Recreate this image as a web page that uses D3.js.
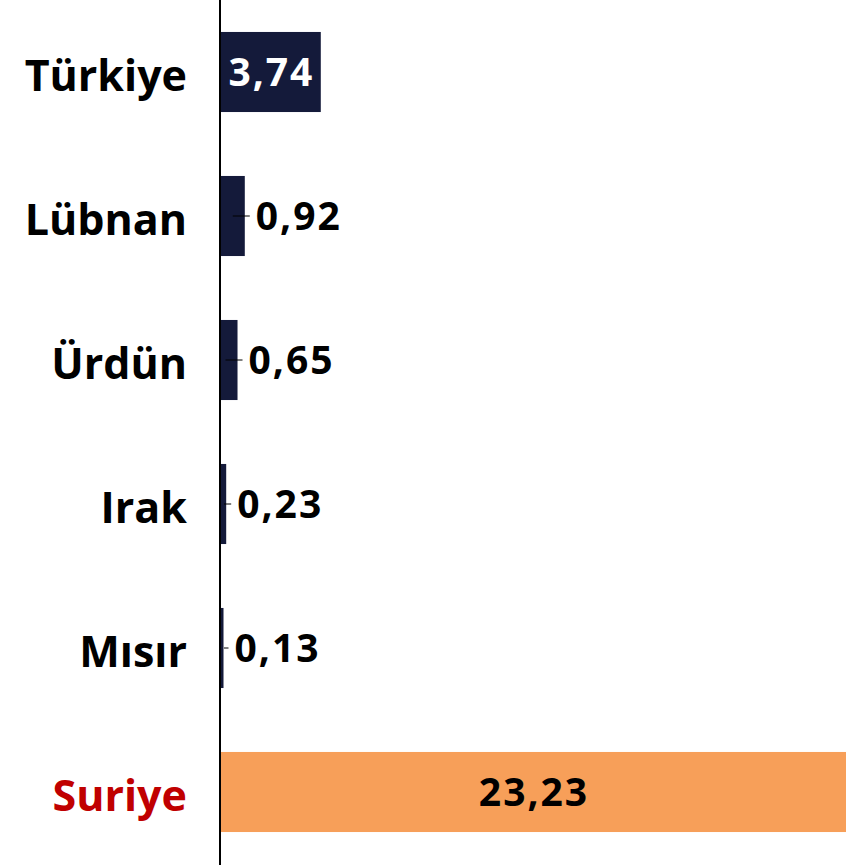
<!DOCTYPE html>
<html>
<head>
<meta charset="utf-8">
<script src="https://cdn.jsdelivr.net/npm/d3@7"></script>
<style>
  html, body { margin: 0; padding: 0; background: #fff; }
  svg { display: block; }
  text { font-family: "Open Sans", Lato, sans-serif; font-weight: 700; }
</style>
</head>
<body>
<svg id="chart" width="846" height="865"></svg>
<script>
const countries = ["Türkiye", "Lübnan", "Ürdün", "Irak", "Mısır", "Suriye"];
const values = [3.74, 0.92, 0.65, 0.23, 0.13, 23.23];
const labels = ["3,74", "0,92", "0,65", "0,23", "0,13", "23,23"];
const highlight = ["Suriye"];

const W = 846, H = 865;
const x0 = 220;
const svg = d3.select("#chart");

const x = d3.scaleLinear().domain([0, 23.23]).range([x0, W]);
const y = d3.scaleBand().domain(countries).range([0, 864])
  .paddingInner(0.444).paddingOuter(0.222);

const rows = countries.map((c, i) => ({ c, v: values[i], lab: labels[i], hi: highlight.includes(c) }));

// bars
svg.append("g").selectAll("rect").data(rows).join("rect")
  .attr("x", x(0))
  .attr("y", d => y(d.c))
  .attr("width", d => x(d.v) - x(0))
  .attr("height", y.bandwidth())
  .attr("fill", d => d.hi ? "#f79f59" : "#141a3a");

// value labels: inside wide bars, outside with a short leader otherwise
const numSize = 39;
rows.forEach(d => {
  const cy = y(d.c) + y.bandwidth() / 2;
  const end = x(d.v);
  const w = end - x(0);
  if (w > 90) {
    svg.append("text")
      .attr("x", x(0) + w / 2 + 1).attr("y", cy + 14)
      .attr("text-anchor", "middle")
      .attr("font-size", numSize)
      .attr("font-weight", 800)
      .attr("letter-spacing", 2)
      .attr("fill", d.hi ? "#000" : "#fff")
      .text(d.lab);
  } else {
    svg.append("line")
      .attr("x1", Math.max(x(0) + 4, end - 12)).attr("x2", end + 5)
      .attr("y1", cy).attr("y2", cy)
      .attr("stroke", "#000").attr("stroke-width", 1);
    svg.append("text")
      .attr("x", end + 11).attr("y", cy + 14)
      .attr("text-anchor", "start")
      .attr("font-size", numSize)
      .attr("font-weight", 800)
      .attr("letter-spacing", 2)
      .attr("fill", "#000")
      .text(d.lab);
  }
});

// category axis
const axis = d3.axisLeft(y).tickSize(0).tickPadding(33);
const g = svg.append("g").attr("transform", `translate(${x0},0)`).call(axis);
g.select(".domain").remove();
g.selectAll(".tick text")
  .attr("dy", null)
  .attr("y", 19)
  .attr("font-size", 43)
  .attr("font-family", "'Open Sans', Lato, sans-serif")
  .attr("font-weight", 700)
  .attr("fill", d => highlight.includes(d) ? "#c00000" : "#000");

svg.append("line")
  .attr("x1", x0).attr("x2", x0).attr("y1", 0).attr("y2", H)
  .attr("stroke", "#000").attr("stroke-width", 2);
</script>
</body>
</html>
